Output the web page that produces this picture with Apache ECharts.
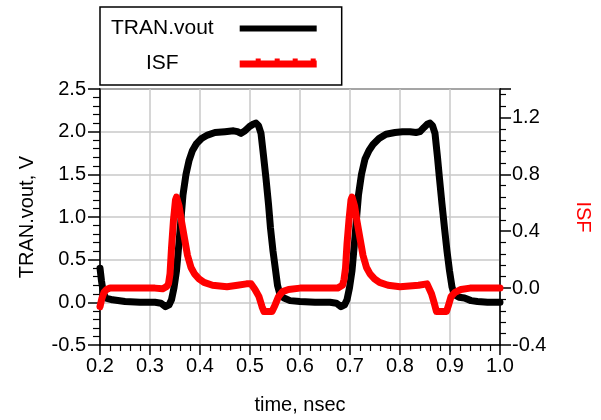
<!DOCTYPE html>
<html>
  <head>
    <meta charset="utf-8">
    <title>TRAN.vout and ISF</title>
    <style type="text/css">
    html, body {margin:0; padding:0; background:#fff;}
    #chart {width:601px; height:420px;}
    </style>
    <script src="https://cdn.jsdelivr.net/npm/echarts@6/dist/echarts.min.js"></script>
  </head>
  <body>
    <div id="chart"></div>
    <script type="text/javascript">
      // TRAN.vout (V) against time (nsec)
      var voutTime = [0.200, 0.203, 0.207, 0.212, 0.225, 0.250, 0.280, 0.310, 0.322, 0.331, 0.338, 0.343, 0.348, 0.353, 0.358, 0.362, 0.366, 0.372, 0.378, 0.385, 0.393, 0.403, 0.415, 0.430, 0.450, 0.467, 0.475, 0.482, 0.490, 0.499, 0.507, 0.512, 0.517, 0.522, 0.527, 0.532, 0.537, 0.541, 0.546, 0.551, 0.555, 0.560, 0.568, 0.580, 0.600, 0.630, 0.660, 0.673, 0.682, 0.689, 0.694, 0.699, 0.704, 0.709, 0.713, 0.717, 0.723, 0.730, 0.738, 0.746, 0.758, 0.772, 0.790, 0.805, 0.820, 0.832, 0.840, 0.848, 0.855, 0.860, 0.865, 0.870, 0.875, 0.879, 0.884, 0.889, 0.894, 0.899, 0.904, 0.909, 0.918, 0.929, 0.942, 0.955, 0.975, 1.000];
      var voutValue = [0.40, 0.25, 0.10, 0.05, 0.03, 0.01, 0.00, 0.00, -0.01, -0.05, -0.03, 0.03, 0.17, 0.37, 0.70, 0.98, 1.26, 1.50, 1.66, 1.78, 1.86, 1.92, 1.96, 1.99, 2.00, 2.01, 2.00, 1.98, 2.01, 2.06, 2.09, 2.10, 2.07, 1.98, 1.72, 1.45, 1.15, 0.87, 0.60, 0.38, 0.20, 0.09, 0.05, 0.02, 0.01, 0.00, 0.00, -0.01, -0.05, -0.03, 0.03, 0.17, 0.37, 0.70, 0.98, 1.26, 1.50, 1.68, 1.78, 1.85, 1.92, 1.97, 1.99, 2.00, 2.00, 1.99, 2.00, 2.05, 2.09, 2.10, 2.07, 1.98, 1.70, 1.45, 1.15, 0.87, 0.60, 0.37, 0.18, 0.09, 0.06, 0.05, 0.02, 0.01, 0.00, 0.00];

      // ISF against time (nsec), right axis
      var isfTime = [0.200, 0.204, 0.208, 0.213, 0.220, 0.250, 0.280, 0.310, 0.325, 0.333, 0.337, 0.340, 0.343, 0.347, 0.351, 0.353, 0.358, 0.363, 0.369, 0.375, 0.382, 0.389, 0.398, 0.408, 0.425, 0.454, 0.475, 0.493, 0.502, 0.510, 0.518, 0.524, 0.528, 0.544, 0.550, 0.557, 0.565, 0.577, 0.600, 0.640, 0.675, 0.685, 0.688, 0.691, 0.694, 0.698, 0.702, 0.704, 0.709, 0.714, 0.720, 0.726, 0.733, 0.740, 0.749, 0.759, 0.776, 0.800, 0.837, 0.854, 0.858, 0.863, 0.868, 0.873, 0.893, 0.897, 0.902, 0.910, 0.922, 0.940, 0.970, 1.000];
      var isfValue = [-0.13, -0.07, -0.03, -0.01, 0.00, 0.00, 0.00, 0.00, -0.005, 0.01, 0.03, 0.10, 0.28, 0.48, 0.62, 0.64, 0.58, 0.47, 0.35, 0.23, 0.145, 0.10, 0.065, 0.04, 0.02, 0.01, 0.02, 0.03, 0.03, -0.01, -0.06, -0.13, -0.165, -0.165, -0.12, -0.06, -0.025, -0.01, 0.00, 0.00, 0.00, 0.02, 0.06, 0.14, 0.31, 0.48, 0.62, 0.64, 0.58, 0.47, 0.35, 0.23, 0.145, 0.10, 0.065, 0.04, 0.02, 0.01, 0.02, 0.03, 0.02, -0.04, -0.10, -0.165, -0.165, -0.12, -0.06, -0.03, -0.01, 0.00, 0.00, 0.00];

      var FONT = '"Liberation Sans", Arial, sans-serif';

      function pairs(xs, ys) {
        var out = [];
        for (var i = 0; i < xs.length; i++) out.push([xs[i], ys[i]]);
        return out;
      }
      function fmt(v) { return v.toFixed(1); }

      var myChart = echarts.init(document.getElementById('chart'), null, {renderer: 'canvas'});
      var option = {
        animation: false,
        backgroundColor: '#fff',
        textStyle: {fontFamily: FONT},
        grid: {
          left: 100, right: 91, top: 89, bottom: 71,
          show: true, borderColor: '#000', borderWidth: 1.5, backgroundColor: 'transparent'
        },
        legend: {
          orient: 'vertical',
          align: 'right',
          left: 100, top: 7,
          padding: [9.5, 25, 10, 11],
          itemGap: 10.5,
          itemWidth: 77, itemHeight: 10,
          borderColor: '#000', borderWidth: 1.5,
          textStyle: {fontFamily: FONT, fontSize: 21, color: '#000', lineHeight: 24},
          data: [
            {name: 'TRAN.vout', icon: 'path://M0,2H77V8H0Z', textStyle: {padding: [0, 21, 0, 0]}},
            {name: 'ISF', icon: 'path://M0,2H77V9H0Z M16,0H21V2H16Z M35,0H40V2H35Z M53,0H58V2H53Z M71,0H76V2H71Z', textStyle: {padding: [0, 56, 0, 0]}}
          ]
        },
        xAxis: {
          type: 'value',
          min: 0.2, max: 1.0, interval: 0.1,
          name: 'time, nsec',
          nameLocation: 'middle', nameGap: 50,
          nameTextStyle: {fontFamily: FONT, fontSize: 20, color: '#000'},
          axisLine: {onZero: false, lineStyle: {color: '#000', width: 1.5}},
          axisTick: {length: 10, lineStyle: {color: '#000', width: 1.5}},
          minorTick: {show: true, splitNumber: 5, length: 6, lineStyle: {color: '#000', width: 1.2}},
          splitLine: {show: true, lineStyle: {color: '#c8c8c8', width: 1.5}},
          axisLabel: {fontFamily: FONT, fontSize: 20, color: '#000', margin: 11, formatter: fmt}
        },
        yAxis: [
          {
            type: 'value', position: 'left',
            min: -0.5, max: 2.5, interval: 0.5,
            name: 'TRAN.vout, V',
            nameLocation: 'middle', nameGap: 63,
            nameTextStyle: {fontFamily: FONT, fontSize: 20, color: '#000'},
            axisLine: {show: true, onZero: false, lineStyle: {color: '#000', width: 1.5}},
            axisTick: {show: true, length: 12, lineStyle: {color: '#000', width: 1.5}},
            minorTick: {show: true, splitNumber: 5, length: 7, lineStyle: {color: '#000', width: 1.2}},
            splitLine: {show: true, lineStyle: {color: '#c8c8c8', width: 1.5}},
            axisLabel: {fontFamily: FONT, fontSize: 20, color: '#000', margin: 14, formatter: fmt}
          },
          {
            type: 'value', position: 'right',
            min: -0.4, max: 1.4, interval: 0.4,
            name: 'ISF',
            nameLocation: 'middle', nameGap: 73, nameRotate: -90,
            nameTextStyle: {fontFamily: FONT, fontSize: 20, color: '#ff0000'},
            axisLine: {show: true, onZero: false, lineStyle: {color: '#000', width: 1.5}},
            axisTick: {show: true, length: 11, lineStyle: {color: '#000', width: 1.5}},
            minorTick: {show: true, splitNumber: 5, length: 6, lineStyle: {color: '#000', width: 1.2}},
            splitLine: {show: false},
            axisLabel: {fontFamily: FONT, fontSize: 20, color: '#000', margin: 12, showMaxLabel: false, formatter: fmt}
          }
        ],
        series: [
          {
            name: 'TRAN.vout', type: 'line', yAxisIndex: 0,
            color: '#000', symbol: 'none', smooth: false,
            lineStyle: {color: '#000', width: 7, join: 'round', cap: 'round'},
            data: pairs(voutTime, voutValue)
          },
          {
            name: 'ISF', type: 'line', yAxisIndex: 1,
            color: '#ff0000', symbol: 'none', smooth: false,
            lineStyle: {color: '#ff0000', width: 7, join: 'round', cap: 'round'},
            data: pairs(isfTime, isfValue)
          }
        ]
      };
      myChart.setOption(option);
    </script>
  </body>
</html>
